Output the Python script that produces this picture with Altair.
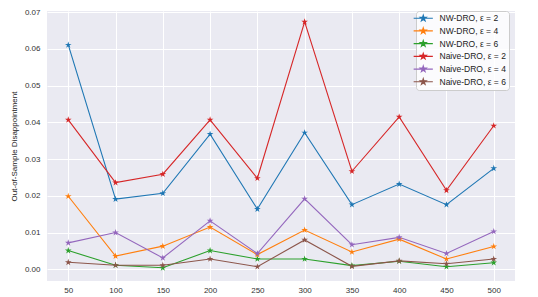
import altair as alt
import pandas as pd

x_vals = [50, 100, 150, 200, 250, 300, 350, 400, 450, 500]
labels = ["NW-DRO, ε = 2", "NW-DRO, ε = 4", "NW-DRO, ε = 6",
          "Naive-DRO, ε = 2", "Naive-DRO, ε = 4", "Naive-DRO, ε = 6"]
colors = ["#1f77b4", "#ff7f0e", "#2ca02c", "#d62728", "#9467bd", "#8c564b"]
y_ticks = [0, 0.01, 0.02, 0.03, 0.04, 0.05, 0.06, 0.07]

nw_2 = [0.0611, 0.0191, 0.0207, 0.0368, 0.0164, 0.0372, 0.0176, 0.0232, 0.0176, 0.0275]
nw_4 = [0.0199, 0.0036, 0.0063, 0.0115, 0.0040, 0.0107, 0.0047, 0.0082, 0.0028, 0.0062]
nw_6 = [0.0051, 0.0011, 0.0004, 0.0051, 0.0028, 0.0028, 0.0010, 0.0022, 0.0007, 0.0018]
naive_2 = [0.0407, 0.0236, 0.0259, 0.0407, 0.0248, 0.0674, 0.0267, 0.0415, 0.0215, 0.0391]
naive_4 = [0.0072, 0.0100, 0.0031, 0.0132, 0.0043, 0.0192, 0.0067, 0.0087, 0.0043, 0.0103]
naive_6 = [0.0019, 0.0011, 0.0011, 0.0028, 0.0007, 0.0080, 0.0008, 0.0023, 0.0015, 0.0028]

series = [nw_2, nw_4, nw_6, naive_2, naive_4, naive_6]
rows = []
for i, (lab, vals) in enumerate(zip(labels, series)):
    for x, v in zip(x_vals, vals):
        rows.append({"n": x, "value": v, "series": lab, "order": i})
df = pd.DataFrame(rows)

STAR = ("M0,-1L0.2245,-0.309L0.951,-0.309L0.363,0.118L0.588,0.809L0,0.382"
        "L-0.588,0.809L-0.363,0.118L-0.951,-0.309L-0.2245,-0.309Z")
LEGEND_SYM = STAR + "M-3.2,0L3.2,0"

FONT = "Liberation Sans"

xenc = alt.X("n:Q", scale=alt.Scale(domain=[27.5, 522.5], nice=False, zero=False),
             axis=alt.Axis(values=x_vals, tickCount=20, title=None, ticks=False, domain=False,
                           labelPadding=5, gridColor="white", gridWidth=1))
yenc = alt.Y("value:Q", scale=alt.Scale(domain=[-0.00319, 0.07035], nice=False, zero=False),
             axis=alt.Axis(values=y_ticks, tickCount=20, format=".2f",
                           title="Out-of-Sample Disappointment", ticks=False, domain=False,
                           labelOverlap=False,
                           labelPadding=7, titlePadding=6, gridColor="white", gridWidth=1))
color = alt.Color("series:N", scale=alt.Scale(domain=labels, range=colors),
                  legend=alt.Legend(title=None, orient="none", legendX=369, legendY=0,
                                    symbolType=LEGEND_SYM, symbolSize=36,
                                    symbolStrokeWidth=1.2, labelOffset=12,
                                    labelFontSize=8.5, labelFont=FONT, labelColor="#222",
                                    rowPadding=0.7, padding=3,
                                    fillColor="rgba(255,255,255,0.8)", strokeColor="#cccccc",
                                    cornerRadius=3))

lines = alt.Chart(df).mark_line(strokeWidth=1.1).encode(
    x=xenc, y=yenc, color=color, detail="series:N", order="n:Q")
points = alt.Chart(df).mark_point(shape=STAR, size=49, filled=True, opacity=1).encode(
    x="n:Q", y="value:Q", color=alt.Color("series:N", scale=alt.Scale(domain=labels, range=colors)))

chart = alt.layer(lines, points).properties(
    width=468, height=270,
    autosize=alt.AutoSizeParams(type="none"),
    padding={"left": 39, "top": 3, "right": 15, "bottom": 16},
).configure_view(fill="#EAEAF2", stroke=None).configure_axis(
    labelFont=FONT, labelFontSize=8, labelColor="#333", titleFont=FONT,
    titleFontSize=8, titleFontWeight="normal", titleColor="#222"
)

chart.save("out.html", embed_options={"renderer": "svg", "actions": False})
